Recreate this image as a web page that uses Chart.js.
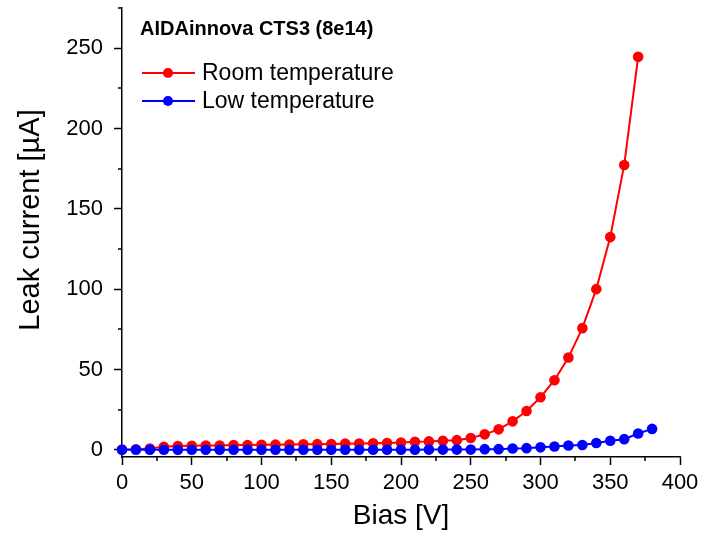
<!DOCTYPE html>
<html>
<head>
<meta charset="utf-8">
<script src="https://cdn.jsdelivr.net/npm/chart.js@4/dist/chart.umd.min.js"></script>
<style>
  html, body { margin: 0; padding: 0; background: #fff; }
  #wrap { width: 712px; height: 533px; }
</style>
</head>
<body>
<div id="wrap"><canvas id="c" width="712" height="533"></canvas></div>
<script>
// Bias voltage steps [V]
const biasRoom = [0,10,20,30,40,50,60,70,80,90,100,110,120,130,140,150,160,170,180,190,
                  200,210,220,230,240,250,260,270,280,290,300,310,320,330,340,350,360,370];
const biasLow  = [0,10,20,30,40,50,60,70,80,90,100,110,120,130,140,150,160,170,180,190,
                  200,210,220,230,240,250,260,270,280,290,300,310,320,330,340,350,360,370,380];

// Leakage current [µA]
const currentRoom = [0.1,0.3,0.8,1.9,2.3,2.5,2.7,2.7,2.9,3.0,3.1,3.2,3.3,3.4,3.5,3.6,3.8,3.9,4.0,4.2,
                     4.5,5.0,5.2,5.6,6.0,7.3,9.6,12.7,17.7,24.1,32.7,43.3,57.4,75.7,100.0,132.4,177.3,244.6];
const currentLow  = [0.0,0.0,0.0,0.0,0.0,0.0,0.0,0.0,0.0,0.0,0.0,0.0,0.0,0.0,0.0,0.0,0.0,0.0,0.0,0.0,
                     0.0,0.0,0.1,0.1,0.1,0.1,0.4,0.4,0.8,1.0,1.5,2.0,2.7,3.0,4.2,5.6,6.6,10.1,13.0];

const xMajorTicks = [0,50,100,150,200,250,300,350,400];
const yMajorTicks = [0,50,100,150,200,250];
const xMinorTicks = [25,75,125,175,225,275,325,375];
const yMinorTicks = [25,75,125,175,225,275];

const chartTitle = 'AIDAinnova CTS3 (8e14)';
const xTitle = 'Bias [V]';
const yTitle = 'Leak current [\u00b5A]';
const seriesNames = ['Room temperature', 'Low temperature'];
const seriesColors = ['#ff0000', '#0000ff'];

const FONT = '"Liberation Sans", Arial, sans-serif';

const toPoints = (xs, ys) => xs.map((x, i) => ({ x: x, y: ys[i] }));

// Minor ticks on both axes, the y-axis title, and the in-plot title and legend
const decorations = {
  id: 'decorations',
  afterDraw(chart) {
    const ctx = chart.ctx;
    const xs = chart.scales.x, ys = chart.scales.y;
    const area = chart.chartArea;
    ctx.save();
    ctx.strokeStyle = '#000';
    ctx.lineWidth = 1.5;
    ctx.beginPath();
    xMinorTicks.forEach(v => {
      const px = Math.round(xs.getPixelForValue(v));
      ctx.moveTo(px, area.bottom);
      ctx.lineTo(px, area.bottom + 4);
    });
    yMinorTicks.forEach(v => {
      const py = Math.round(ys.getPixelForValue(v));
      ctx.moveTo(area.left, py);
      ctx.lineTo(area.left - 4, py);
    });
    ctx.stroke();

    // y-axis title, rotated
    ctx.save();
    ctx.translate(31, 220);
    ctx.rotate(-Math.PI / 2);
    ctx.fillStyle = '#000';
    ctx.font = '29px ' + FONT;
    ctx.textAlign = 'center';
    ctx.textBaseline = 'middle';
    ctx.fillText(yTitle, 0, 0);
    ctx.restore();

    // title
    ctx.fillStyle = '#000';
    ctx.font = 'bold 20px ' + FONT;
    ctx.textBaseline = 'middle';
    ctx.textAlign = 'left';
    ctx.fillText(chartTitle, 140, 29);

    // legend
    ctx.font = '23px ' + FONT;
    const rows = [73, 101];
    rows.forEach((y, i) => {
      ctx.strokeStyle = seriesColors[i];
      ctx.lineWidth = 2;
      ctx.beginPath();
      ctx.moveTo(142, y);
      ctx.lineTo(195, y);
      ctx.stroke();
      ctx.fillStyle = seriesColors[i];
      ctx.beginPath();
      ctx.arc(168, y, 5, 0, Math.PI * 2);
      ctx.fill();
      ctx.fillStyle = '#000';
      ctx.fillText(seriesNames[i], 202, y + 1);
    });
    ctx.restore();
  }
};

new Chart(document.getElementById('c'), {
  type: 'line',
  data: {
    datasets: [
      {
        label: seriesNames[0],
        data: toPoints(biasRoom, currentRoom),
        borderColor: seriesColors[0],
        backgroundColor: seriesColors[0],
        borderWidth: 2,
        pointRadius: 5.3,
        pointBorderWidth: 0,
        tension: 0,
        clip: false,
        order: 1
      },
      {
        label: seriesNames[1],
        data: toPoints(biasLow, currentLow),
        borderColor: seriesColors[1],
        backgroundColor: seriesColors[1],
        borderWidth: 2,
        pointRadius: 5.3,
        pointBorderWidth: 0,
        tension: 0,
        clip: false,
        order: 0
      }
    ]
  },
  options: {
    responsive: false,
    animation: false,
    events: [],
    layout: { padding: { top: 8, right: 32, left: 0, bottom: 0 } },
    plugins: {
      legend: { display: false },
      title: { display: false },
      tooltip: { enabled: false }
    },
    scales: {
      x: {
        type: 'linear',
        min: 0,
        max: 400,
        afterBuildTicks: s => { s.ticks = xMajorTicks.map(v => ({ value: v })); },
        afterFit: s => { s.height = 76; s.paddingLeft = 0; s.paddingRight = 0; },
        border: { display: true, color: '#000', width: 1.5 },
        grid: { drawOnChartArea: false, drawTicks: true, tickLength: 8, tickColor: '#000', tickWidth: 1.5 },
        ticks: { color: '#000', font: { family: FONT, size: 22 }, padding: 5, maxRotation: 0 },
        title: { display: true, text: xTitle, color: '#000', font: { family: FONT, size: 28 }, padding: { top: 0, bottom: 0 } }
      },
      y: {
        type: 'linear',
        min: -4.5,
        max: 275,
        afterBuildTicks: s => { s.ticks = yMajorTicks.map(v => ({ value: v })); },
        afterFit: s => { s.width = 122; s.paddingTop = 0; s.paddingBottom = 0; },
        border: { display: true, color: '#000', width: 1.5 },
        grid: { drawOnChartArea: false, drawTicks: true, tickLength: 8, tickColor: '#000', tickWidth: 1.5 },
        ticks: { color: '#000', font: { family: FONT, size: 22 }, padding: 11 },
        title: { display: false }
      }
    }
  },
  plugins: [decorations]
});
</script>
</body>
</html>
